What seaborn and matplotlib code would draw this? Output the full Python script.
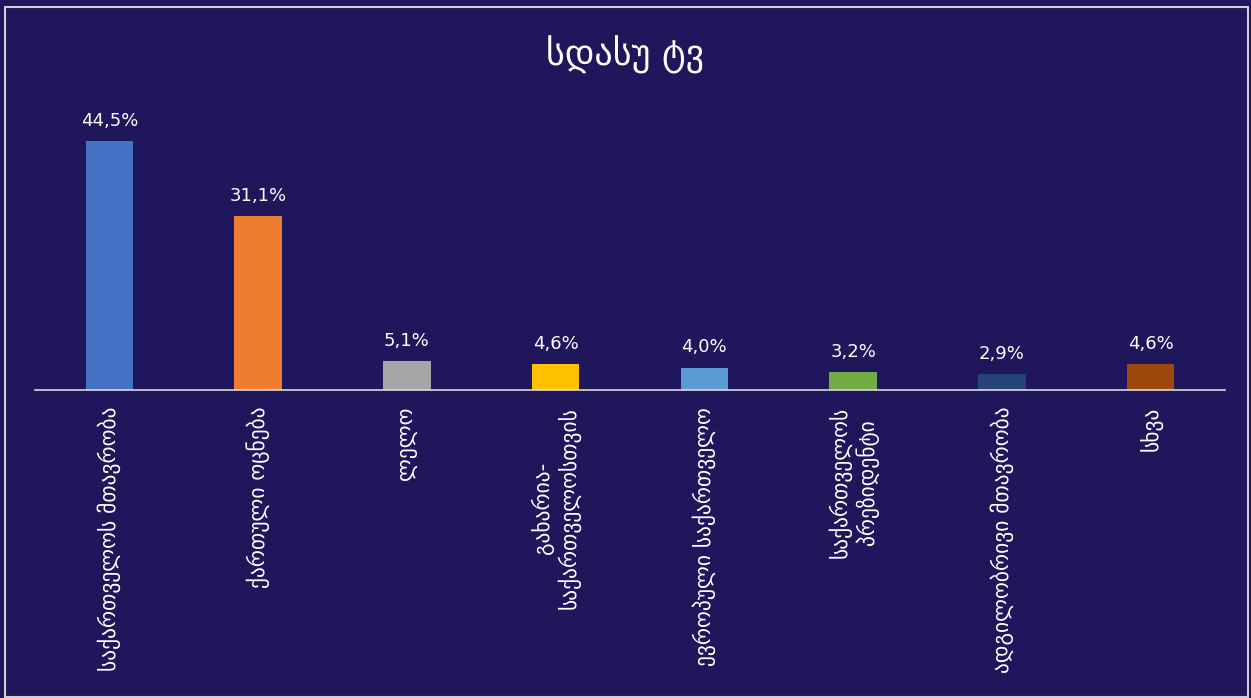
import pandas as pd
import matplotlib.pyplot as plt
import seaborn as sns
from matplotlib.patches import Rectangle

# Chart data
categories = ['საქართველოს მთავრობა', 'ქართული ოცნება', 'ლელო',
              'გახარია-\nსაქართველოსთვის', 'ევროპული საქართველო',
              'საქართველოს\nპრეზიდენტი', 'ადგილობრივი მთავრობა', 'სხვა']
shares = [44.5, 31.1, 5.1, 4.6, 4.0, 3.2, 2.9, 4.6]
colors = ['#4472C4', '#ED7D31', '#A5A5A5', '#FFC000',
          '#5B9BD5', '#70AD47', '#264478', '#9E480E']
title = 'სდასუ ტვ'

bg = '#1F165C'
df = pd.DataFrame({'category': categories, 'share': shares})

sns.set_style('white')
plt.rcParams['font.family'] = ['DejaVu Sans']

fig = plt.figure(figsize=(12.51, 6.98), dpi=100, facecolor=bg)
ax = fig.add_axes([35 / 1251, 1 - 390 / 698, 1190 / 1251, 280 / 698])
ax.set_facecolor(bg)

sns.barplot(data=df, x='category', y='share', hue='category', palette=colors,
            legend=False, width=0.32, saturation=1, linewidth=0, ax=ax)

ax.set_ylim(0, 50)
ax.set_xlim(-0.5, len(categories) - 0.5)
ax.set_xlabel('')
ax.set_ylabel('')
ax.set_yticks([])
for side in ['top', 'left', 'right']:
    ax.spines[side].set_visible(False)
ax.spines['bottom'].set_color('#D9D9D9')
ax.spines['bottom'].set_linewidth(1.2)

ax.tick_params(axis='x', length=0, pad=12, colors='white')
ax.set_xticks(range(len(categories)))
ax.set_xticklabels(categories, rotation=90, fontsize=15.5, color='white',
                   ha='center', va='top', multialignment='center')

# value labels
for i, v in enumerate(shares):
    ax.text(i, v + 2.0, f'{v:.1f}%'.replace('.', ','), ha='center', va='bottom',
            color='white', fontsize=13, clip_on=False)

fig.text(0.5, 1 - 55 / 698, title, ha='center', va='center', color='white', fontsize=26)

# light frame around the chart area
fig.patches.append(Rectangle((0.004, 0.002), 0.994, 0.988, transform=fig.transFigure,
                             fill=False, edgecolor='#D0D0D0', linewidth=1.5))

fig.savefig('out.png', dpi=100, facecolor=bg)
